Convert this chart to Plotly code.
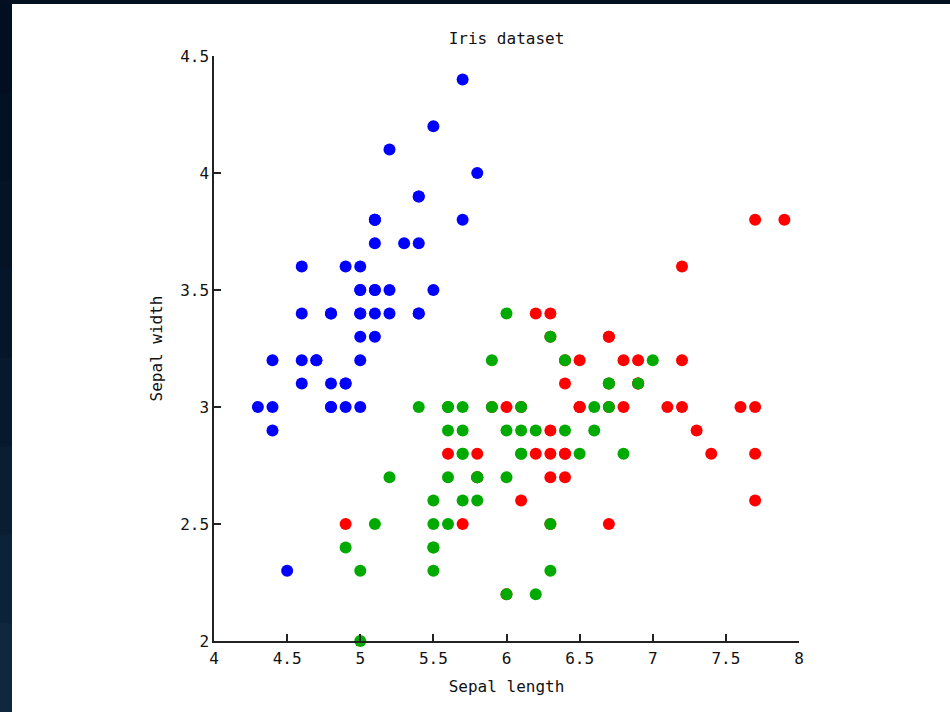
import plotly.graph_objects as go

# Iris sepal measurements (sepal length, sepal width)
setosa_length = [5.1, 4.9, 4.7, 4.6, 5.0, 5.4, 4.6, 5.0, 4.4, 4.9, 5.4, 4.8, 4.8, 4.3, 5.8, 5.7, 5.4, 5.1, 5.7, 5.1,
                 5.4, 5.1, 4.6, 5.1, 4.8, 5.0, 5.0, 5.2, 5.2, 4.7, 4.8, 5.4, 5.2, 5.5, 4.9, 5.0, 5.5, 4.9, 4.4, 5.1,
                 5.0, 4.5, 4.4, 5.0, 5.1, 4.8, 5.1, 4.6, 5.3, 5.0]
setosa_width = [3.5, 3.0, 3.2, 3.1, 3.6, 3.9, 3.4, 3.4, 2.9, 3.1, 3.7, 3.4, 3.0, 3.0, 4.0, 4.4, 3.9, 3.5, 3.8, 3.8,
                3.4, 3.7, 3.6, 3.3, 3.4, 3.0, 3.4, 3.5, 3.4, 3.2, 3.1, 3.4, 4.1, 4.2, 3.1, 3.2, 3.5, 3.6, 3.0, 3.4,
                3.5, 2.3, 3.2, 3.5, 3.8, 3.0, 3.8, 3.2, 3.7, 3.3]
versicolor_length = [7.0, 6.4, 6.9, 5.5, 6.5, 5.7, 6.3, 4.9, 6.6, 5.2, 5.0, 5.9, 6.0, 6.1, 5.6, 6.7, 5.6, 5.8, 6.2, 5.6,
                     5.9, 6.1, 6.3, 6.1, 6.4, 6.6, 6.8, 6.7, 6.0, 5.7, 5.5, 5.5, 5.8, 6.0, 5.4, 6.0, 6.7, 6.3, 5.6, 5.5,
                     5.5, 6.1, 5.8, 5.0, 5.6, 5.7, 5.7, 6.2, 5.1, 5.7]
versicolor_width = [3.2, 3.2, 3.1, 2.3, 2.8, 2.8, 3.3, 2.4, 2.9, 2.7, 2.0, 3.0, 2.2, 2.9, 2.9, 3.1, 3.0, 2.7, 2.2, 2.5,
                    3.2, 2.8, 2.5, 2.8, 2.9, 3.0, 2.8, 3.0, 2.9, 2.6, 2.4, 2.4, 2.7, 2.7, 3.0, 3.4, 3.1, 2.3, 3.0, 2.5,
                    2.6, 3.0, 2.6, 2.3, 2.7, 3.0, 2.9, 2.9, 2.5, 2.8]
virginica_length = [6.3, 5.8, 7.1, 6.3, 6.5, 7.6, 4.9, 7.3, 6.7, 7.2, 6.5, 6.4, 6.8, 5.7, 5.8, 6.4, 6.5, 7.7, 7.7, 6.0,
                    6.9, 5.6, 7.7, 6.3, 6.7, 7.2, 6.2, 6.1, 6.4, 7.2, 7.4, 7.9, 6.4, 6.3, 6.1, 7.7, 6.3, 6.4, 6.0, 6.9,
                    6.7, 6.9, 5.8, 6.8, 6.7, 6.7, 6.3, 6.5, 6.2, 5.9]
virginica_width = [3.3, 2.7, 3.0, 2.9, 3.0, 3.0, 2.5, 2.9, 2.5, 3.6, 3.2, 2.7, 3.0, 2.5, 2.8, 3.2, 3.0, 3.8, 2.6, 2.2,
                   3.2, 2.8, 2.8, 2.7, 3.3, 3.2, 2.8, 3.0, 2.8, 3.0, 2.8, 3.8, 2.8, 2.8, 2.6, 3.0, 3.4, 3.1, 3.0, 3.1,
                   3.1, 3.1, 2.7, 3.2, 3.3, 3.0, 2.5, 3.0, 3.4, 3.0]

tick_x = [4, 4.5, 5, 5.5, 6, 6.5, 7, 7.5, 8]
tick_x_text = ["4", "4.5", "5", "5.5", "6", "6.5", "7", "7.5", "8"]
tick_y = [2, 2.5, 3, 3.5, 4, 4.5]
tick_y_text = ["2", "2.5", "3", "3.5", "4", "4.5"]

W, H = 950, 712
L, R, T, B = 214, 151, 56, 71
PW, PH = W - L - R, H - T - B

def px(x):
    return (x - L) / PW

def py(y):
    return (H - B - y) / PH

FONT = "DejaVu Sans Mono"
FS = 16
TXT = "#111111"
AX = "#222222"
MS = 12

fig = go.Figure()
series = [
    (setosa_length, setosa_width, "#0000ff"),
    (virginica_length, virginica_width, "#ff0000"),
    (versicolor_length, versicolor_width, "#00aa00"),
]
for xs, ys, c in series:
    fig.add_trace(go.Scatter(x=xs, y=ys, mode="markers",
                             marker=dict(color=c, size=MS, line=dict(width=0)),
                             showlegend=False, cliponaxis=False))

shapes = []
# white panel
shapes.append(dict(type="rect", xref="paper", yref="paper", x0=px(12), x1=px(W + 5), y0=py(H + 5), y1=py(4),
                   fillcolor="white", line=dict(width=0), layer="below"))
# left strip gradient
strip_cols = ["#020f22", "#031124", "#041326", "#05162a", "#07192e", "#091d33", "#0c2238", "#10283f"]
n = len(strip_cols)
for i, c in enumerate(strip_cols):
    y0p = 4 + (H - 4) * i / n
    y1p = 4 + (H - 4) * (i + 1) / n + 1
    shapes.append(dict(type="rect", xref="paper", yref="paper", x0=px(-2), x1=px(12), y0=py(y1p), y1=py(y0p),
                       fillcolor=c, line=dict(width=0), layer="below"))

fig.update_layout(
    width=W, height=H,
    margin=dict(l=L, r=R, t=T, b=B, pad=0),
    paper_bgcolor="#02101f",
    plot_bgcolor="rgba(0,0,0,0)",
    shapes=shapes,
    font=dict(family=FONT, size=FS, color=TXT),
    title=dict(text="Iris dataset", x=0.5, xref="paper", xanchor="center",
               y=1 - 38 / H, yref="container", yanchor="middle",
               font=dict(family=FONT, size=FS, color=TXT)),
    xaxis=dict(range=[4, 8], tickvals=tick_x, ticktext=tick_x_text, showgrid=False, zeroline=False,
               showline=True, linecolor=AX, linewidth=1.5, mirror=False,
               ticks="inside", ticklen=7, tickwidth=1.5, tickcolor=AX, ticklabelstandoff=2,
               tickfont=dict(family=FONT, size=FS, color=TXT),
               title=dict(text="Sepal length", font=dict(family=FONT, size=FS, color=TXT), standoff=14)),
    yaxis=dict(range=[2, 4.5], tickvals=tick_y, ticktext=tick_y_text, showgrid=False, zeroline=False,
               showline=True, linecolor=AX, linewidth=1.5, mirror=False,
               ticks="inside", ticklen=7, tickwidth=1.5, tickcolor=AX,
               tickfont=dict(family=FONT, size=FS, color=TXT),
               title=dict(text="Sepal width", font=dict(family=FONT, size=FS, color=TXT), standoff=14)),
)

fig.write_html("out.html", config={"displayModeBar": False},
               post_script="document.body.style.margin='0';document.body.style.background='#02101f';")
